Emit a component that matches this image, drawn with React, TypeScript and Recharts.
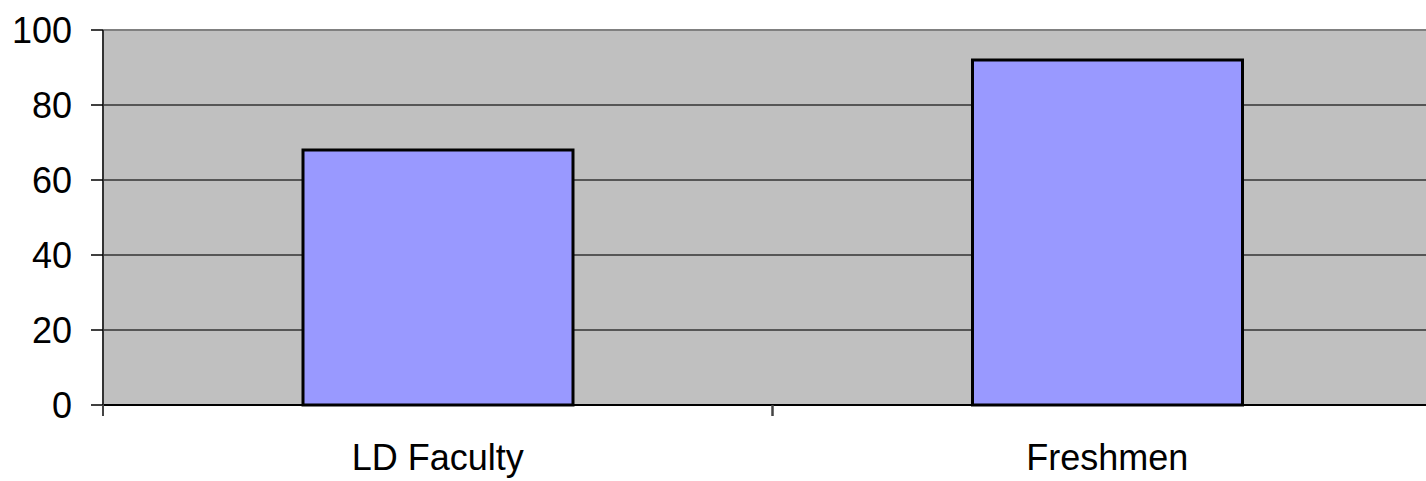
import React from "react";
import { BarChart, Bar, XAxis, YAxis, CartesianGrid, ReferenceLine } from "recharts";

const groups = ["LD Faculty", "Freshmen"];
const scores = [68, 92];
const yTicks = [0, 20, 40, 60, 80, 100];

const data = groups.map((g, i) => ({ group: g, score: scores[i] }));

const font = { fontFamily: "'Liberation Sans', Arial, sans-serif", fontSize: 36, fill: "#000" };

// category label with tick marks on the band edges instead of the centre
const GroupTick = (props: any) => {
  const { x, y, payload } = props;
  const half = payload && payload.offset ? payload.offset : 0;
  return (
    <g>
      <line x1={x - half} x2={x - half} y1={y} y2={y + 11} stroke="#444" strokeWidth={2} />
      <line x1={x + half} x2={x + half} y1={y} y2={y + 11} stroke="#444" strokeWidth={2} />
      <text x={x} y={y + 39} dy="0.71em" textAnchor="middle" {...font}>
        {payload.value}
      </text>
    </g>
  );
};

export default function App() {
  return (
    <div
      style={{
        position: "fixed", // body margin ignored
        left: 0,
        top: 0,
        width: 1426,
        height: 481,
        overflow: "hidden",
        background: "#fff",
      }}
    >
      <BarChart
        width={1450}
        height={481}
        data={data}
        margin={{ top: 30, right: 8, left: 0, bottom: 0 }}
      >
        <CartesianGrid vertical={false} fill="#C0C0C0" stroke="#333" strokeWidth={1.5} />
        <XAxis
          dataKey="group"
          height={76}
          tickSize={0}
          tickMargin={0}
          axisLine={{ stroke: "#000", strokeWidth: 2 }}
          tickLine={false}
          tick={GroupTick}
        />
        <YAxis
          width={103}
          domain={[0, 100]}
          ticks={yTicks}
          tickSize={12}
          tickMargin={19}
          axisLine={{ stroke: "#333", strokeWidth: 2 }}
          tickLine={{ stroke: "#000", strokeWidth: 1.5 }}
          tick={font}
        />
        <ReferenceLine y={100} stroke="#808080" strokeWidth={2} />
        <Bar
          dataKey="score"
          fill="#9999FF"
          stroke="#000"
          strokeWidth={3}
          barSize={270}
          isAnimationActive={false}
        />
      </BarChart>
    </div>
  );
}
